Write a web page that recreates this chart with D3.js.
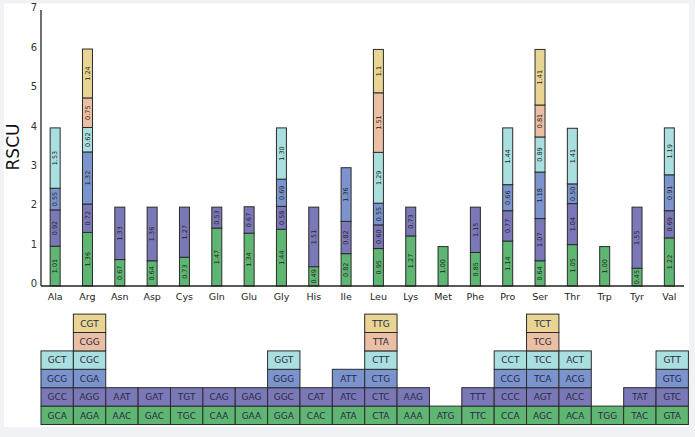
<!DOCTYPE html>
<html>
<head>
<meta charset="utf-8">
<script src="https://cdn.jsdelivr.net/npm/d3@7"></script>
<style>
  body { margin: 0; background: #f1f2f5; }
  svg { display: block; }
  text { font-family: "DejaVu Sans", sans-serif; }
</style>
</head>
<body>
<svg id="chart" width="695" height="437"></svg>
<script>
// amino acids along the x axis
var aminoAcids = ["Ala","Arg","Asn","Asp","Cys","Gln","Glu","Gly","His","Ile",
                  "Leu","Lys","Met","Phe","Pro","Ser","Thr","Trp","Tyr","Val"]

// codons per amino acid, bottom to top
var codons = [
  ["GCA","GCC","GCG","GCT"],
  ["AGA","AGG","CGA","CGC","CGG","CGT"],
  ["AAC","AAT"],
  ["GAC","GAT"],
  ["TGC","TGT"],
  ["CAA","CAG"],
  ["GAA","GAG"],
  ["GGA","GGC","GGG","GGT"],
  ["CAC","CAT"],
  ["ATA","ATC","ATT"],
  ["CTA","CTC","CTG","CTT","TTA","TTG"],
  ["AAA","AAG"],
  ["ATG"],
  ["TTC","TTT"],
  ["CCA","CCC","CCG","CCT"],
  ["AGC","AGT","TCA","TCC","TCG","TCT"],
  ["ACA","ACC","ACG","ACT"],
  ["TGG"],
  ["TAC","TAT"],
  ["GTA","GTC","GTG","GTT"]
]

// RSCU values as printed, same order as codons
var rscu = [
  ["1.01","0.92","0.55","1.53"],
  ["1.36","0.72","1.32","0.62","0.75","1.24"],
  ["0.67","1.33"],
  ["0.64","1.36"],
  ["0.73","1.27"],
  ["1.47","0.53"],
  ["1.34","0.67"],
  ["1.44","0.58","0.69","1.30"],
  ["0.49","1.51"],
  ["0.82","0.82","1.36"],
  ["0.95","0.60","0.55","1.29","1.51","1.1"],
  ["1.27","0.73"],
  ["1.00"],
  ["0.85","1.15"],
  ["1.14","0.77","0.66","1.44"],
  ["0.64","1.07","1.18","0.89","0.81","1.41"],
  ["1.05","1.04","0.50","1.41"],
  ["1.00"],
  ["0.45","1.55"],
  ["1.22","0.69","0.91","1.19"]
]

var yTicks = [0,1,2,3,4,5,6,7]
var palette = ["#5fb672","#7b78b8","#7b94cd","#aadfdf","#ebbfa3","#e8d594"]

var svg = d3.select("#chart")

// white panel
svg.append("rect")
  .attr("x",4).attr("y",3.5)
  .attr("width",685).attr("height",423.5)
  .attr("fill","#ffffff")

var x = d3.scaleBand().domain(aminoAcids).range([39,685.5])
var xTable = d3.scaleBand().domain(aminoAcids).range([41,688.4])
var y = d3.scaleLinear().domain([0,7]).range([286,10])
var barW = 10
var rowH = 18.4
var tableBottom = 424.5

// flatten into segments
var segments = []
aminoAcids.forEach(function(aa,i){
  var top = 0
  rscu[i].forEach(function(v,j){
    segments.push({aa:aa, codon:codons[i][j], label:v, idx:j, y0:top, y1:top + (+v)})
    top += +v
  })
})

var bars = svg.append("g")

bars.selectAll("rect.seg")
    .data(segments)
  .enter().append("rect")
    .classed("seg",true)
    .attr("x", function(d){ return x(d.aa) + x.bandwidth()/2 - barW/2 })
    .attr("y", function(d){ return y(d.y1) })
    .attr("width", barW)
    .attr("height", function(d){ return y(d.y0) - y(d.y1) })
    .attr("fill", function(d){ return palette[d.idx] })
    .attr("stroke","#2b2b2b")
    .attr("stroke-width",1)

bars.selectAll("text.seglab")
    .data(segments)
  .enter().append("text")
    .classed("seglab",true)
    .attr("transform", function(d){
      var cx = x(d.aa) + x.bandwidth()/2
      var cy = (y(d.y0) + y(d.y1))/2
      return "translate(" + cx + "," + cy + ") rotate(-90)"
    })
    .attr("text-anchor","middle")
    .attr("dy","0.35em")
    .attr("font-size","6.5px")
    .attr("fill","#222")
    .text(function(d){ return d.label })

// axes
svg.append("line")
  .attr("x1",41).attr("x2",41)
  .attr("y1",y(7)).attr("y2",y(0))
  .attr("stroke","#222").attr("stroke-width",1.3)
svg.append("line")
  .attr("x1",41).attr("x2",684)
  .attr("y1",y(0)).attr("y2",y(0))
  .attr("stroke","#222").attr("stroke-width",1.3)

svg.selectAll("text.ytick")
    .data(yTicks)
  .enter().append("text")
    .classed("ytick",true)
    .attr("x",37)
    .attr("y", function(d){ return y(d) + 1.3 })
    .attr("text-anchor","end")
    .attr("font-size","10px")
    .attr("fill","#333")
    .text(function(d){ return d })

svg.selectAll("text.xtick")
    .data(aminoAcids)
  .enter().append("text")
    .classed("xtick",true)
    .attr("x", function(d){ return x(d) + x.bandwidth()/2 })
    .attr("y",300)
    .attr("text-anchor","middle")
    .attr("font-size","9.5px")
    .attr("fill","#222")
    .text(function(d){ return d })

svg.append("text")
  .attr("transform","translate(19,147) rotate(-90)")
  .attr("text-anchor","middle")
  .attr("font-size","17px")
  .attr("fill","#111")
  .text("RSCU")

// codon table
var cells = svg.append("g")

cells.selectAll("rect.cell")
    .data(segments)
  .enter().append("rect")
    .classed("cell",true)
    .attr("x", function(d){ return xTable(d.aa) })
    .attr("y", function(d){ return tableBottom - (d.idx+1)*rowH })
    .attr("width", xTable.bandwidth())
    .attr("height", rowH)
    .attr("fill", function(d){ return palette[d.idx] })
    .attr("stroke","#2b2b2b")
    .attr("stroke-width",1)

cells.selectAll("text.cellab")
    .data(segments)
  .enter().append("text")
    .classed("cellab",true)
    .attr("x", function(d){ return xTable(d.aa) + xTable.bandwidth()/2 })
    .attr("y", function(d){ return tableBottom - (d.idx+0.5)*rowH })
    .attr("dy","0.36em")
    .attr("text-anchor","middle")
    .attr("font-size","9px")
    .attr("fill","#2a2a44")
    .text(function(d){ return d.codon })
</script>
</body>
</html>
